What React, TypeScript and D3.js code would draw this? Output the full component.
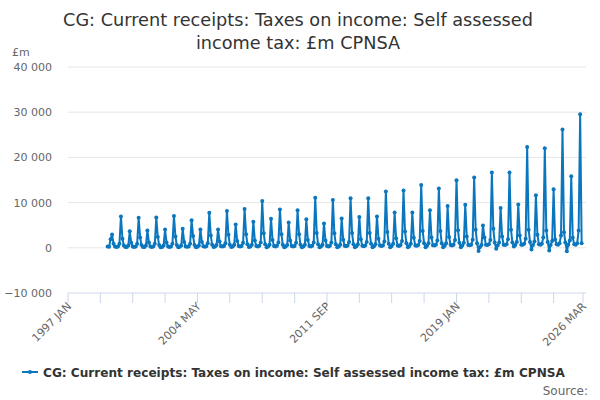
import React, { useEffect, useRef } from 'react';
import * as d3 from 'd3';

// Monthly receipts, £m, first value is 1999 APR
const firstMonth = '1999-04';
const receipts: number[] = [
  // 1999 (Apr-Dec)
  300, 250, 1900, 2950, 900, 300, 200, 300, 900,
  // 2000
  6950, 2000, 500, 150, 200, 500, 3650, 1100, 300, 200, 300, 900,
  // 2001
  6650, 2300, 600, 150, 200, 500, 3850, 1200, 300, 200, 300, 900,
  // 2002
  6700, 2400, 600, 100, 200, 500, 4050, 1200, 300, 200, 300, 900,
  // 2003
  7050, 2500, 600, 100, 250, 500, 4200, 1300, 300, 250, 300, 900,
  // 2004
  6100, 2600, 600, 100, 250, 500, 4050, 1300, 350, 250, 350, 1000,
  // 2005
  7750, 2700, 700, 150, 300, 600, 4050, 1400, 350, 300, 400, 1000,
  // 2006
  8150, 2900, 700, 150, 300, 700, 5150, 1500, 400, 300, 400, 1100,
  // 2007
  8600, 3000, 800, 150, 300, 700, 5750, 1600, 400, 300, 450, 1200,
  // 2008
  10350, 3200, 800, 100, 300, 700, 6450, 1700, 400, 300, 450, 1200,
  // 2009
  8500, 3000, 700, 100, 300, 600, 5600, 1600, 400, 300, 400, 1100,
  // 2010
  8300, 3000, 700, 100, 300, 700, 6300, 1700, 400, 300, 450, 1200,
  // 2011
  11100, 3300, 800, 100, 300, 700, 5350, 1600, 400, 300, 450, 1200,
  // 2012
  10600, 3200, 800, 100, 300, 700, 6500, 1800, 450, 350, 500, 1300,
  // 2013
  10950, 3300, 800, 100, 350, 800, 6800, 1900, 450, 350, 500, 1300,
  // 2014
  10950, 3300, 900, 100, 350, 800, 6950, 2000, 500, 400, 500, 1400,
  // 2015
  12450, 3500, 900, 100, 400, 900, 7800, 2100, 500, 400, 600, 1500,
  // 2016
  12650, 3600, 1000, 100, 400, 900, 7800, 2200, 500, 450, 600, 1500,
  // 2017
  13900, 3700, 1000, 100, 450, 1000, 8300, 2300, 550, 500, 650, 1600,
  // 2018
  13100, 3700, 1000, 100, 450, 1000, 9250, 2400, 600, 500, 700, 1700,
  // 2019
  14950, 3900, 1100, 100, 500, 1100, 9550, 2500, 600, 550, 700, 1800,
  // 2020
  15550, 4000, 1000, -700, 200, 600, 4950, 2300, 700, 600, 800, 1700,
  // 2021
  16650, 4200, 1200, -200, 500, 1200, 8800, 2500, 700, 600, 800, 1900,
  // 2022
  16650, 4000, 1200, 300, 600, 1300, 9600, 2700, 700, 650, 900, 2000,
  // 2023
  22300, 4000, 1300, -400, 600, 1400, 11600, 2900, 800, 700, 900, 2300,
  // 2024
  22000, 3850, 1300, -600, 600, 1500, 12950, 1850, 800, 700, 1000, 2700,
  // 2025
  26150, 3450, 1200, -750, 700, 1600, 15850, 2200, 800, 700, 1000, 3850,
  // 2026
  29550, 1000,
];

const xTickMonths = [
  '1997-01', '1998-11', '2000-09', '2002-07', '2004-05', '2006-03', '2008-01', '2009-11',
  '2011-09', '2013-07', '2015-05', '2017-03', '2019-01', '2020-11', '2022-09', '2024-07', '2026-03',
];
const xTickLabels = ['1997 JAN', '', '', '', '2004 MAY', '', '', '', '2011 SEP', '', '', '', '2019 JAN', '', '', '', '2026 MAR'];
const yTicks = [-10000, 0, 10000, 20000, 30000, 40000];

const titleLines = ['CG: Current receipts: Taxes on income: Self assessed', 'income tax: £m CPNSA'];
const seriesName = 'CG: Current receipts: Taxes on income: Self assessed income tax: £m CPNSA';

const parseMonth = d3.timeParse('%Y-%m');

const App: React.FC = () => {
  const svgRef = useRef<SVGSVGElement>(null);

  useEffect(() => {
    if (!svgRef.current) return;
    const svg = d3.select(svgRef.current);
    svg.selectAll('*').remove();

    const font = '"DejaVu Sans", sans-serif';
    const blue = '#0a76be';

    const start = parseMonth(firstMonth) as Date;
    const data = receipts.map((v, i) => ({ date: d3.timeMonth.offset(start, i), value: v }));

    const x = d3.scaleTime()
      .domain([parseMonth('1997-01') as Date, parseMonth('2026-03') as Date])
      .range([68, 583]);
    const y = d3.scaleLinear().domain([-10000, 40000]).range([293, 67]);

    // title
    svg.append('g').selectAll('text')
      .data(titleLines)
      .enter()
      .append('text')
      .attr('x', 298)
      .attr('y', 26)
      .attr('dy', (_, i) => i * 23)
      .attr('text-anchor', 'middle')
      .style('font-family', font)
      .style('font-size', '17.7px')
      .style('fill', '#333')
      .text(d => d);

    svg.append('text')
      .attr('x', 12)
      .attr('y', 56)
      .style('font-family', font)
      .style('font-size', '11px')
      .style('fill', '#666')
      .text('£m');

    // gridlines + y labels
    const fmt = (v: number) => d3.format(',')(v).replace(/,/g, ' ');
    svg.append('g').selectAll('line')
      .data(yTicks.filter(t => t !== -10000))
      .enter()
      .append('line')
      .attr('x1', 68)
      .attr('x2', 586)
      .attr('y1', d => y(d))
      .attr('y2', d => y(d))
      .attr('stroke', '#e6e6e6');

    svg.append('g').selectAll('text')
      .data(yTicks)
      .enter()
      .append('text')
      .attr('x', 52)
      .attr('y', d => y(d) + 4)
      .attr('text-anchor', 'end')
      .style('font-family', font)
      .style('font-size', '11px')
      .style('fill', '#666')
      .text(d => fmt(d));

    // x axis
    const axisY = y(-10000);
    svg.append('line')
      .attr('x1', 68)
      .attr('x2', 586)
      .attr('y1', axisY)
      .attr('y2', axisY)
      .attr('stroke', '#ccd6eb');

    const tickDates = xTickMonths.map(m => parseMonth(m) as Date);
    svg.append('g').selectAll('line')
      .data(tickDates)
      .enter()
      .append('line')
      .attr('x1', d => x(d))
      .attr('x2', d => x(d))
      .attr('y1', axisY)
      .attr('y2', axisY + 10)
      .attr('stroke', '#ccd6eb');

    svg.append('g').selectAll('text')
      .data(tickDates)
      .enter()
      .append('text')
      .attr('transform', d => `translate(${x(d) + 4}, ${axisY + 14}) rotate(-45)`)
      .attr('text-anchor', 'end')
      .style('font-family', font)
      .style('font-size', '11px')
      .style('fill', '#666')
      .text((_, i) => xTickLabels[i]);

    // series
    const line = d3.line<{ date: Date; value: number }>()
      .x(d => x(d.date))
      .y(d => y(d.value));

    svg.append('path')
      .datum(data)
      .attr('fill', 'none')
      .attr('stroke', blue)
      .attr('stroke-width', 2)
      .attr('stroke-linejoin', 'round')
      .attr('d', line);

    svg.append('g').selectAll('circle')
      .data(data)
      .enter()
      .append('circle')
      .attr('cx', d => x(d.date))
      .attr('cy', d => y(d.value))
      .attr('r', 2)
      .attr('fill', blue);

    // legend
    const legend = svg.append('g').attr('transform', 'translate(22, 372)');
    legend.append('line')
      .attr('x1', 0)
      .attr('x2', 16)
      .attr('y1', 0)
      .attr('y2', 0)
      .attr('stroke', blue)
      .attr('stroke-width', 2);
    legend.append('circle')
      .attr('cx', 8)
      .attr('cy', 0)
      .attr('r', 2)
      .attr('fill', blue);
    legend.append('text')
      .attr('x', 21)
      .attr('y', 5)
      .style('font-family', font)
      .style('font-size', '12.1px')
      .style('font-weight', 'bold')
      .style('fill', '#333')
      .text(seriesName);

    svg.append('text')
      .attr('x', 588)
      .attr('y', 395)
      .attr('text-anchor', 'end')
      .style('font-family', font)
      .style('font-size', '12px')
      .style('fill', '#666')
      .text('Source:');
  }, []);

  return (
    <svg
      ref={svgRef}
      width={600}
      height={400}
      style={{ position: 'fixed', left: 0, top: 0, background: '#fff' }}
    />
  );
};

export default App;
